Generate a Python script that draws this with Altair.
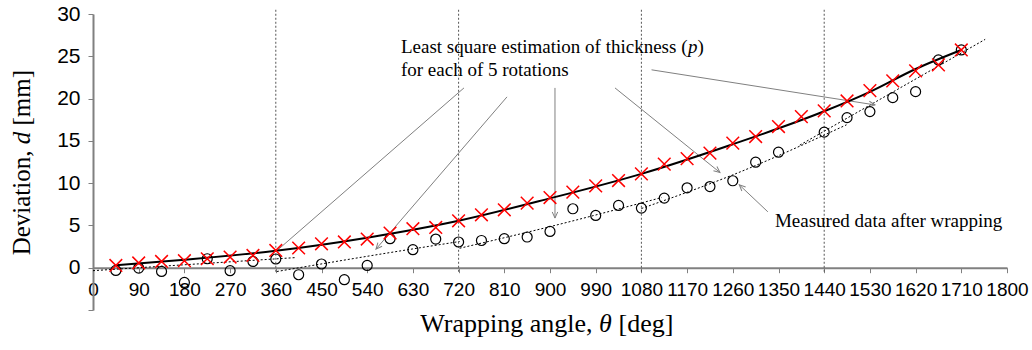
import math
import altair as alt
import pandas as pd

# ---------------- data ----------------
est_theta = [45, 90, 135, 180, 225, 270, 315, 360, 405, 450, 495, 540, 585, 630, 675,
             720, 765, 810, 855, 900, 945, 990, 1035, 1080, 1125, 1170, 1215, 1260,
             1305, 1350, 1395, 1440, 1485, 1530, 1575, 1620, 1665, 1710]
est_d = [0.27, 0.56, 0.74, 0.83, 1.06, 1.26, 1.45, 2.04, 2.33, 2.83, 3.05, 3.39, 4.10,
         4.61, 4.76, 5.55, 6.26, 6.85, 7.64, 8.30, 8.94, 9.68, 10.31, 11.10, 12.25,
         12.90, 13.55, 14.73, 15.51, 16.69, 17.87, 18.54, 19.72, 20.94, 22.09, 23.27,
         23.98, 25.75]

meas_theta = [45, 90, 135, 180, 225, 270, 315, 360, 405, 450, 495, 540, 585, 630, 675,
              720, 765, 810, 855, 900, 945, 990, 1035, 1080, 1125, 1170, 1215, 1260,
              1305, 1350, 1440, 1485, 1530, 1575, 1620, 1665, 1710]
meas_d = [-0.32, -0.04, -0.44, -1.74, 1.06, -0.35, 0.74, 1.03, -0.83, 0.44, -1.42, 0.27,
          3.43, 2.13, 3.39, 3.04, 3.22, 3.43, 3.63, 4.29, 6.97, 6.18, 7.36, 7.05, 8.23,
          9.45, 9.60, 10.28, 12.48, 13.66, 16.03, 17.75, 18.46, 20.11, 20.82, 24.57, 25.75]

curve_theta = [45, 180, 360, 540, 720, 900, 1080, 1260, 1440, 1530, 1620, 1710]
curve_d = [0.30, 0.95, 2.00, 3.55, 5.55, 8.20, 11.10, 14.60, 18.50, 20.80, 23.50, 25.75]

fit_rot = [1, 1, 2, 2, 2, 3, 3, 3, 4, 4, 4, 5, 5, 5]
fit_theta = [0, 400, 362, 545, 722, 722, 903, 1120, 1080, 1261, 1484, 1392, 1576, 1757]
fit_d = [-0.35, 1.2, -0.45, 1.4, 3.1, 2.3, 4.9, 8.3, 7.0, 11.0, 16.9, 14.5, 20.8, 27.0]

rotation_ends = [360, 720, 1080, 1440]

x_ticks = list(range(0, 1801, 90))
y_ticks = list(range(-5, 31, 5))

# annotation pointers (theta, d) -> (theta, d)
arr_t1 = [730.6, 815.3, 909.8, 1028.0, 1100.0, 1329.0]
arr_d1 = [21.26, 20.2, 21.26, 21.26, 23.4, 6.61]
arr_t2 = [364.3, 557.3, 909.8, 1234.7, 1540.0, 1272.8]
arr_d2 = [2.13, 2.2, 5.87, 11.26, 19.25, 9.8]
arr_head = [False, True, True, True, True, True]

# ---------------- layout ----------------
W, H = 914, 296
XD = [0, 1800]
YD = [-5, 30]
px_deg = W / (XD[1] - XD[0])
px_mm = H / (YD[1] - YD[0])

GRAY = "#808080"
SERIF = "Liberation Serif"
SANS = "Liberation Sans"

xs = alt.Scale(domain=XD, nice=False, zero=False)
ys = alt.Scale(domain=YD, nice=False, zero=False)

x_axis = alt.Axis(values=x_ticks, format="d", labelFontSize=19, labelFont=SANS,
                  labelColor="black", domainColor=GRAY, domainWidth=2, tickColor=GRAY,
                  tickSize=5, tickWidth=1, offset=-(H * 5 / 35), labelOverlap=False,
                  labelFlush=False, labelPadding=8, grid=False)
y_axis = alt.Axis(values=y_ticks, labelExpr="datum.value < 0 ? '' : datum.label",
                  labelFontSize=21, labelFont=SANS, labelColor="black",
                  domainColor=GRAY, domainWidth=2, tickColor=GRAY, tickSize=5,
                  tickWidth=1, labelPadding=8, grid=False)


def X(field):
    return alt.X(field, type="quantitative", scale=xs, axis=x_axis, title=None)


def Y(field):
    return alt.Y(field, type="quantitative", scale=ys, axis=y_axis, title=None)


est_df = pd.DataFrame({"theta": est_theta, "d": est_d})
meas_df = pd.DataFrame({"theta": meas_theta, "d": meas_d})
curve_df = pd.DataFrame({"theta": curve_theta, "d": curve_d})
fit_df = pd.DataFrame({"rot": fit_rot, "theta": fit_theta, "d": fit_d})
rot_df = pd.DataFrame({"theta": rotation_ends})

arr_df = pd.DataFrame({"t1": arr_t1, "d1": arr_d1, "t2": arr_t2, "d2": arr_d2})
heads = []
for t1, d1, t2, d2, h in zip(arr_t1, arr_d1, arr_t2, arr_d2, arr_head):
    if h:
        dx = (t2 - t1) * px_deg
        dy = -(d2 - d1) * px_mm
        ang = math.degrees(math.atan2(-dx, dy)) % 360
        heads.append({"theta": t2, "d": d2, "ang": ang})
head_df = pd.DataFrame(heads)

# ---------------- layers ----------------
vlines = alt.Chart(rot_df).mark_rule(color="#555555", strokeWidth=1, strokeDash=[2, 2]).encode(
    x=X("theta"), y=alt.datum(30.5), y2=alt.datum(-0.6))

pointer_lines = alt.Chart(arr_df).mark_rule(color=GRAY, strokeWidth=1).encode(
    x=X("t1"), y=Y("d1"), x2="t2", y2="d2")

pointer_heads = alt.Chart(head_df).mark_point(
    shape="M-0.45,-1L0,0L0.45,-1", filled=False, stroke=GRAY, strokeWidth=1,
    size=150, opacity=1).encode(
    x=X("theta"), y=Y("d"), angle=alt.Angle("ang:Q", scale=None))

fits = alt.Chart(fit_df).mark_line(color="black", strokeWidth=1, strokeDash=[2, 2],
                                   interpolate="monotone").encode(
    x=X("theta"), y=Y("d"), detail="rot:N")

curve = alt.Chart(curve_df).mark_line(color="black", strokeWidth=2,
                                      interpolate="monotone").encode(
    x=X("theta"), y=Y("d"))

circles = alt.Chart(meas_df).mark_point(shape="circle", filled=False, stroke="black",
                                        strokeWidth=1.2, size=100, opacity=1).encode(
    x=X("theta"), y=Y("d"))

crosses = alt.Chart(est_df).mark_point(shape="M-1,-1L1,1M-1,1L1,-1", filled=False,
                                       stroke="red", strokeWidth=1.5, size=160,
                                       opacity=1).encode(
    x=X("theta"), y=Y("d"))

ann_df = pd.DataFrame({
    "theta": [606.5, 606.5, 1343.0],
    "d": [25.39, 22.68, 4.84],
    "txt": ["Least square estimation of thickness (", "for each of 5 rotations",
            "Measured data after wrapping"],
})
ann = alt.Chart(ann_df).mark_text(font=SERIF, fontSize=19, align="left",
                                  baseline="alphabetic", color="black").encode(
    x=X("theta"), y=Y("d"), text="txt:N")

p_df = pd.DataFrame({"theta": [1171.7], "d": [25.39], "txt": ["p"]})
ann_p = alt.Chart(p_df).mark_text(font=SERIF, fontSize=19, fontStyle="italic",
                                  align="left", baseline="alphabetic",
                                  color="black").encode(
    x=X("theta"), y=Y("d"), text="txt:N")
pc_df = pd.DataFrame({"theta": [1190.5], "d": [25.39], "txt": [")"]})
ann_pc = alt.Chart(pc_df).mark_text(font=SERIF, fontSize=19, align="left",
                                    baseline="alphabetic", color="black").encode(
    x=X("theta"), y=Y("d"), text="txt:N")

one = pd.DataFrame({"k": [0]})


def label(txt, x, y, align, italic=False, angle=0, size=26):
    kw = dict(text=txt, font=SERIF, fontSize=size, align=align, baseline="alphabetic",
              color="black")
    if italic:
        kw["fontStyle"] = "italic"
    if angle:
        kw["angle"] = angle
    return alt.Chart(one).mark_text(**kw).encode(x=alt.value(x), y=alt.value(y))


xt1 = label("Wrapping angle,", 499.5, 318, "right")
xt2 = label("θ", 512.5, 318, "center", italic=True)
xt3 = label("[deg]", 525.5, 318, "left")

yt1 = label("Deviation,", -63, 136.5, "right", angle=270, size=25)
yt2 = label("d", -63, 124, "center", italic=True, angle=270, size=25)
yt3 = label("[mm]", -63, 111.5, "left", angle=270, size=25)

chart = alt.layer(
    vlines, fits, pointer_lines, pointer_heads, curve, circles, crosses,
    ann, ann_p, ann_pc, xt1, xt2, xt3, yt1, yt2, yt3
).properties(
    width=W, height=H,
    autosize=alt.AutoSizeParams(type="none"),
    padding={"left": 93, "top": 14, "right": 25, "bottom": 40},
    background="white",
).configure_view(stroke=None)

chart.save("out.html", embed_options={"renderer": "svg", "actions": False})
